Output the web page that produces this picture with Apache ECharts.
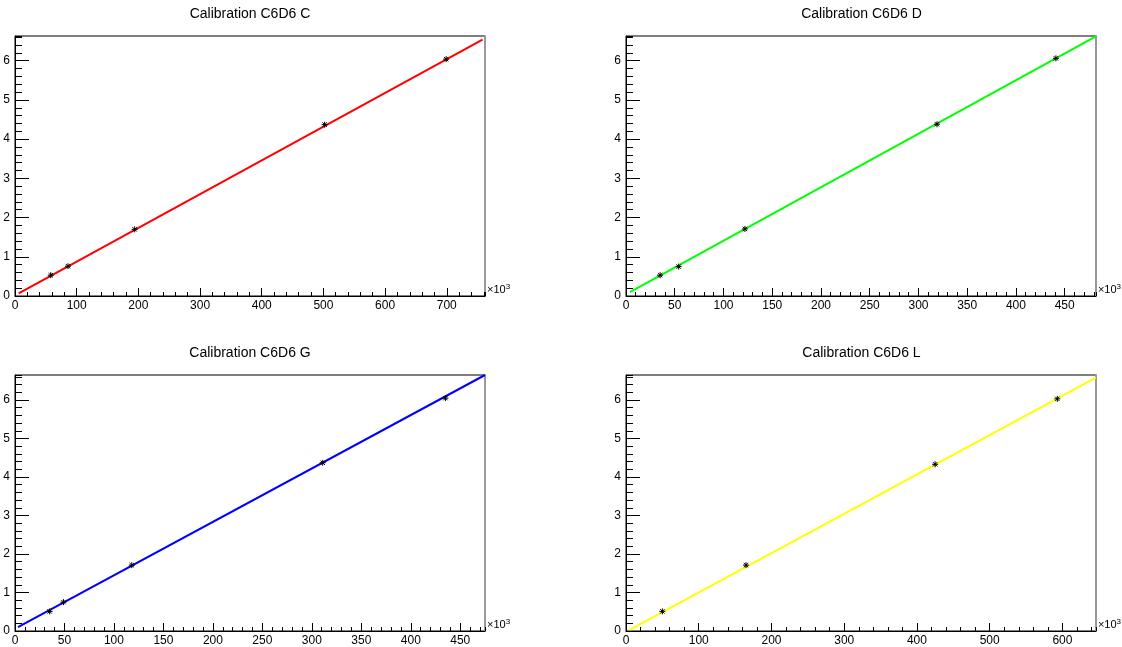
<!DOCTYPE html>
<html><head><meta charset="utf-8">
<script src="https://cdn.jsdelivr.net/npm/echarts@6/dist/echarts.min.js"></script>
<style>html,body{margin:0;padding:0;background:#fff}#c{width:1122px;height:647px}</style>
</head><body><div id="c"></div>
<script>
// ---- data ----
const titles = ['Calibration C6D6 C', 'Calibration C6D6 D', 'Calibration C6D6 G', 'Calibration C6D6 L'];

const xC = [58, 86, 194, 502, 699];
const yC = [0.53, 0.76, 1.70, 4.37, 6.04];
const eC = [0.05, 0.03, 0.03, 0.03, 0.03];
const fitC = [[6, 0.07], [758, 6.54]];

const xD = [35, 54, 122, 319, 441];
const yD = [0.53, 0.75, 1.71, 4.38, 6.06];
const eD = [0.03, 0.03, 0.03, 0.03, 0.03];
const fitD = [[4, 0.10], [482, 6.62]];

const xG = [35, 49, 118, 311, 435];
const yG = [0.51, 0.75, 1.71, 4.37, 6.05];
const eG = [0.03, 0.03, 0.03, 0.03, 0.03];
const fitG = [[3, 0.10], [475, 6.65]];

const xL = [50, 165, 425, 593];
const yL = [0.51, 1.71, 4.33, 6.03];
const eL = [0.03, 0.03, 0.03, 0.03];
const fitL = [[5, 0.03], [646, 6.58]];

// axis ranges / tick steps
const xMax = [762, 482, 475, 646];
const xMajor = [100, 50, 50, 100];
const xMinor = [20, 10, 10, 20];
const yMax = [6.63, 6.63, 6.65, 6.65];
const yMajor = 1;
const yMinor = 0.2;

// ---- build ----
const FONT = 'Liberation Sans, Arial, Helvetica, sans-serif';
const lineColors = ['#ff0000', '#00ff00', '#0000ff', '#ffff00'];
const pts = [[xC, yC, eC], [xD, yD, eD], [xG, yG, eG], [xL, yL, eL]];
const fits = [fitC, fitD, fitG, fitL];

const grids = [
  {left: 15, top: 36, width: 470, height: 260},
  {left: 626, top: 36, width: 471, height: 260},
  {left: 15, top: 375, width: 470, height: 259},
  {left: 626, top: 375, width: 471, height: 259}
];

const xAxes = [], yAxes = [], series = [], graphics = [];

function renderStar(params, api) {
  const x = api.value(0), y = api.value(1), e = api.value(2);
  const p = api.coord([x, y]);
  const pt = api.coord([x, y + e]);
  const pb = api.coord([x, y - e]);
  const r = 3, d = 2.2;
  const st = {stroke: '#000', lineWidth: 1};
  return {type: 'group', children: [
    {type: 'line', shape: {x1: p[0] - r, y1: p[1], x2: p[0] + r, y2: p[1]}, style: st},
    {type: 'line', shape: {x1: p[0], y1: p[1] - r, x2: p[0], y2: p[1] + r}, style: st},
    {type: 'line', shape: {x1: p[0] - d, y1: p[1] - d, x2: p[0] + d, y2: p[1] + d}, style: st},
    {type: 'line', shape: {x1: p[0] - d, y1: p[1] + d, x2: p[0] + d, y2: p[1] - d}, style: st},
    {type: 'line', shape: {x1: p[0], y1: pt[1], x2: p[0], y2: pb[1]}, style: st}
  ]};
}

for (let i = 0; i < 4; i++) {
  xAxes.push({
    type: 'value', gridIndex: i, min: 0, max: xMax[i], interval: xMajor[i], position: 'bottom',
    axisLine: {show: true, onZero: false, lineStyle: {color: '#000', width: 1}},
    axisTick: {show: true, inside: true, length: 8, lineStyle: {color: '#000', width: 1}},
    axisLabel: {show: true, margin: 4, color: '#000', fontSize: 12, fontFamily: FONT, showMaxLabel: false},
    splitLine: {show: false},
    name: '×10{s|3}', nameLocation: 'end', nameGap: 2,
    nameTextStyle: {color: '#000', fontSize: 11, fontFamily: FONT, verticalAlign: 'bottom',
      rich: {s: {fontSize: 8, fontFamily: FONT, color: '#000', verticalAlign: 'top', padding: [0, 0, 5, 0]}}}
  });
  xAxes.push({
    type: 'value', gridIndex: i, min: 0, max: xMax[i], interval: xMinor[i], position: 'bottom',
    axisLine: {show: false, onZero: false},
    axisTick: {show: true, inside: true, length: 4, lineStyle: {color: '#000', width: 1}},
    axisLabel: {show: false}, splitLine: {show: false}
  });
  yAxes.push({
    type: 'value', gridIndex: i, min: 0, max: yMax[i], interval: yMajor, position: 'left',
    axisLine: {show: true, onZero: false, lineStyle: {color: '#000', width: 1}},
    axisTick: {show: true, inside: true, length: 14, lineStyle: {color: '#000', width: 1}},
    axisLabel: {show: true, margin: 5, color: '#000', fontSize: 12, fontFamily: FONT, showMaxLabel: false},
    splitLine: {show: false}
  });
  yAxes.push({
    type: 'value', gridIndex: i, min: 0, max: yMax[i], interval: yMinor, position: 'left',
    axisLine: {show: false, onZero: false},
    axisTick: {show: true, inside: true, length: 7, lineStyle: {color: '#000', width: 1}},
    axisLabel: {show: false}, splitLine: {show: false}
  });
  // right frame edge (drawn grey and slightly heavier, as in the reference)
  yAxes.push({
    type: 'value', gridIndex: i, min: 0, max: yMax[i], position: 'right',
    axisLine: {show: true, onZero: false, lineStyle: {color: '#999', width: 2}},
    axisTick: {show: false}, axisLabel: {show: false}, splitLine: {show: false}
  });

  series.push({
    type: 'line', xAxisIndex: 2 * i, yAxisIndex: 3 * i, data: fits[i],
    showSymbol: false, symbol: 'none', lineStyle: {color: lineColors[i], width: 2}, z: 2, silent: true
  });
  const [xs, ys, es] = pts[i];
  series.push({
    type: 'custom', xAxisIndex: 2 * i, yAxisIndex: 3 * i,
    data: xs.map((x, k) => [x, ys[k], es[k]]),
    encode: {x: 0, y: 1}, renderItem: renderStar, z: 3, silent: true
  });

  const g = grids[i];
  graphics.push({
    type: 'text', x: g.left + g.width / 2, y: g.top - 22,
    style: {text: titles[i], align: 'center', verticalAlign: 'middle', textAlign: 'center', textVerticalAlign: 'middle',
      fontSize: 14, fontFamily: FONT, fill: '#000'}
  });
}

const chart = echarts.init(document.getElementById('c'), null, {renderer: 'canvas'});
chart.setOption({
  animation: false,
  backgroundColor: '#fff',
  grid: grids.map(g => Object.assign({show: true, borderColor: '#000', borderWidth: 1, backgroundColor: 'transparent', containLabel: false}, g)),
  xAxis: xAxes,
  yAxis: yAxes,
  series: series,
  graphic: graphics
});
</script>
</body></html>
